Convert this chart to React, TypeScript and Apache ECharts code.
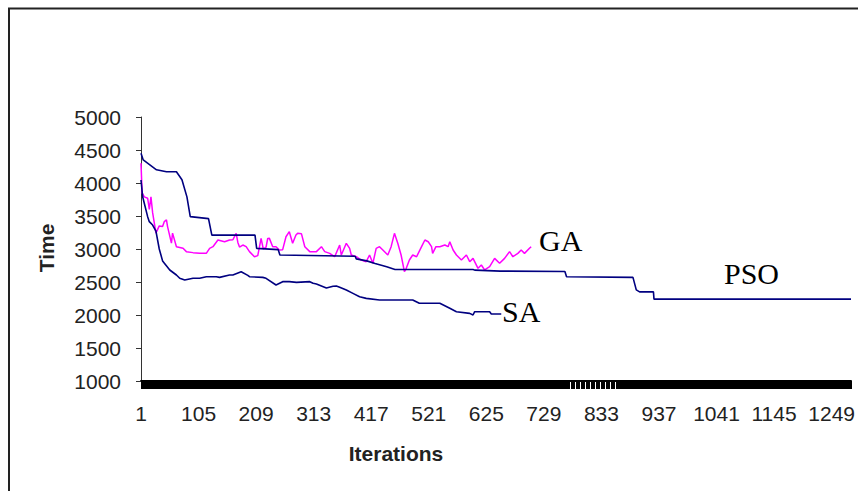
import React, { useEffect, useRef } from "react";
import * as echarts from "echarts";

// Iterations 1..1284 on a category axis
const ITERATION_COUNT = 1284;
const categories: string[] = Array.from({ length: ITERATION_COUNT }, (_, i) => String(i + 1));

const yTicks = { min: 1000, max: 5000, step: 500 };

// GA (category index, time)
const gaIdx = [0, 2, 6, 12, 15, 18, 21, 27, 33, 39, 42, 46, 48, 55, 57, 64, 76, 82, 94, 106, 118, 124, 130, 139, 151, 160, 166, 172, 175, 178, 184, 190, 196, 205, 211, 217, 221, 226, 229, 232, 238, 244, 250, 256, 262, 268, 274, 280, 283, 290, 296, 305, 317, 326, 332, 341, 350, 359, 362, 371, 377, 380, 389, 398, 407, 413, 419, 425, 431, 437, 446, 452, 458, 464, 470, 476, 479, 485, 491, 498, 507, 513, 519, 525, 527, 533, 540, 549, 555, 558, 564, 570, 579, 588, 594, 600, 609, 615, 621, 630, 639, 648, 657, 666, 672, 681, 687, 693, 702, 705];
const gaTime = [4300, 3850, 3790, 3770, 3600, 3790, 3550, 3240, 3350, 3340, 3414, 3440, 3340, 3090, 3240, 3035, 3010, 2960, 2945, 2934, 2934, 3010, 3035, 3136, 3110, 3136, 3140, 3237, 3100, 3030, 3060, 3035, 2960, 2883, 2900, 3161, 3000, 3030, 3160, 3161, 3035, 3035, 2985, 2990, 3186, 3262, 3086, 3212, 3237, 3230, 3035, 2960, 2960, 3035, 2960, 2934, 2883, 3060, 2909, 3086, 3010, 2909, 2883, 2833, 2808, 2909, 2783, 3010, 3035, 2985, 2909, 3035, 3237, 3086, 2909, 2656, 2700, 2833, 2909, 2883, 3035, 3136, 3110, 3035, 2934, 3035, 3035, 3060, 3035, 3110, 2985, 2909, 2833, 2909, 2808, 2858, 2707, 2757, 2682, 2732, 2858, 2783, 2858, 2960, 2883, 2934, 2985, 2934, 3010, 3035];

// SA
const saIdx = [0, 3, 12, 15, 21, 27, 33, 39, 52, 64, 70, 79, 94, 106, 118, 136, 142, 160, 166, 181, 193, 196, 220, 226, 244, 256, 268, 281, 305, 311, 317, 335, 347, 353, 359, 371, 383, 395, 407, 431, 455, 491, 503, 540, 558, 570, 594, 600, 603, 630, 633, 651];
const saTime = [4045, 3792, 3490, 3414, 3363, 3270, 3000, 2820, 2682, 2606, 2556, 2530, 2556, 2556, 2580, 2580, 2570, 2606, 2606, 2656, 2600, 2580, 2570, 2556, 2455, 2505, 2505, 2495, 2505, 2480, 2470, 2410, 2435, 2439, 2420, 2379, 2328, 2277, 2252, 2227, 2227, 2227, 2177, 2177, 2101, 2050, 2025, 2000, 2050, 2050, 2015, 2015];

// PSO
const psoIdx = [0, 4, 28, 46, 64, 74, 83, 89, 122, 128, 206, 209, 248, 251, 387, 389, 408, 423, 444, 459, 600, 603, 649, 766, 769, 889, 895, 901, 926, 927, 1283];
const psoTime = [4450, 4350, 4200, 4170, 4170, 4050, 3790, 3490, 3460, 3210, 3210, 3010, 2990, 2910, 2890, 2850, 2820, 2780, 2730, 2690, 2690, 2680, 2665, 2660, 2580, 2570, 2380, 2350, 2350, 2240, 2240];

const seriesLabels = { ga: "GA", sa: "SA", pso: "PSO" };
const axisTitles = { x: "Iterations", y: "Time" };

const pairs = (xs: number[], ys: number[]) => xs.map((x, i) => [x, ys[i]]);

export default function App() {
  const ref = useRef<HTMLDivElement>(null);
  useEffect(() => {
    if (!ref.current) return;
    const chart = echarts.init(ref.current, null, { renderer: "svg" });
    const option: any = {
      animation: false,
      backgroundColor: "#ffffff",
      grid: { left: 141, right: 7, top: 117, bottom: 110, containLabel: false },
      xAxis: {
        type: "category",
        data: categories,
        boundaryGap: false,
        axisLine: { show: true, lineStyle: { color: "#000", width: 2 } },
        axisTick: {
          show: true,
          length: 8,
          interval: (index: number) => {
            if (index >= 775 && index <= 862) return (index - 775) % 9 > 2;
            return true;
          },
          lineStyle: { color: "#000", width: 1 },
        },
        axisLabel: {
          interval: 103,
          margin: 22,
          fontFamily: "Liberation Sans",
          fontSize: 21,
          color: "#222",
        },
        splitLine: { show: false },
      },
      yAxis: {
        type: "value",
        min: yTicks.min,
        max: yTicks.max,
        interval: yTicks.step,
        axisLine: { show: true, lineStyle: { color: "#333", width: 1 } },
        axisTick: { show: true, length: 5, lineStyle: { color: "#333" } },
        axisLabel: {
          margin: 20,
          fontFamily: "Liberation Sans",
          fontSize: 21,
          color: "#222",
          formatter: (v: number) => String(v),
        },
        splitLine: { show: false },
      },
      series: [
        {
          name: seriesLabels.ga,
          type: "line",
          data: pairs(gaIdx, gaTime),
          symbol: "none",
          lineStyle: { color: "#FF00FF", width: 1.5 },
          z: 2,
        },
        {
          name: seriesLabels.sa,
          type: "line",
          data: pairs(saIdx, saTime),
          symbol: "none",
          lineStyle: { color: "#000080", width: 1.6 },
          z: 3,
        },
        {
          name: seriesLabels.pso,
          type: "line",
          data: pairs(psoIdx, psoTime),
          symbol: "none",
          lineStyle: { color: "#000080", width: 1.6 },
          z: 4,
        },
      ],
      graphic: [
        { type: "line", shape: { x1: 9, y1: 8, x2: 9, y2: 491 }, style: { stroke: "#222", lineWidth: 2 } },
        { type: "line", shape: { x1: 8, y1: 8.5, x2: 858, y2: 8.5 }, style: { stroke: "#222", lineWidth: 2 } },
        {
          type: "text",
          x: 539,
          y: 240,
          style: { text: seriesLabels.ga, font: "30px 'Liberation Serif'", fill: "#000", align: "left", verticalAlign: "middle" },
        },
        {
          type: "text",
          x: 502,
          y: 311,
          style: { text: seriesLabels.sa, font: "30px 'Liberation Serif'", fill: "#000", align: "left", verticalAlign: "middle" },
        },
        {
          type: "text",
          x: 724,
          y: 273,
          style: { text: seriesLabels.pso, font: "30px 'Liberation Serif'", fill: "#000", align: "left", verticalAlign: "middle" },
        },
        {
          type: "text",
          x: 396,
          y: 453,
          style: { text: axisTitles.x, font: "bold 21px 'Liberation Sans'", fill: "#222", align: "center", verticalAlign: "middle" },
        },
        {
          type: "text",
          x: 46,
          y: 248,
          rotation: Math.PI / 2,
          style: { text: axisTitles.y, font: "bold 21px 'Liberation Sans'", fill: "#222", align: "center", verticalAlign: "middle" },
        },
      ],
    };
    chart.setOption(option);
    return () => chart.dispose();
  }, []);
  return (
    <div style={{ position: "fixed", left: 0, top: 0, width: 858, height: 491, background: "#fff" }}>
      <div ref={ref} style={{ width: 858, height: 491 }} />
    </div>
  );
}
